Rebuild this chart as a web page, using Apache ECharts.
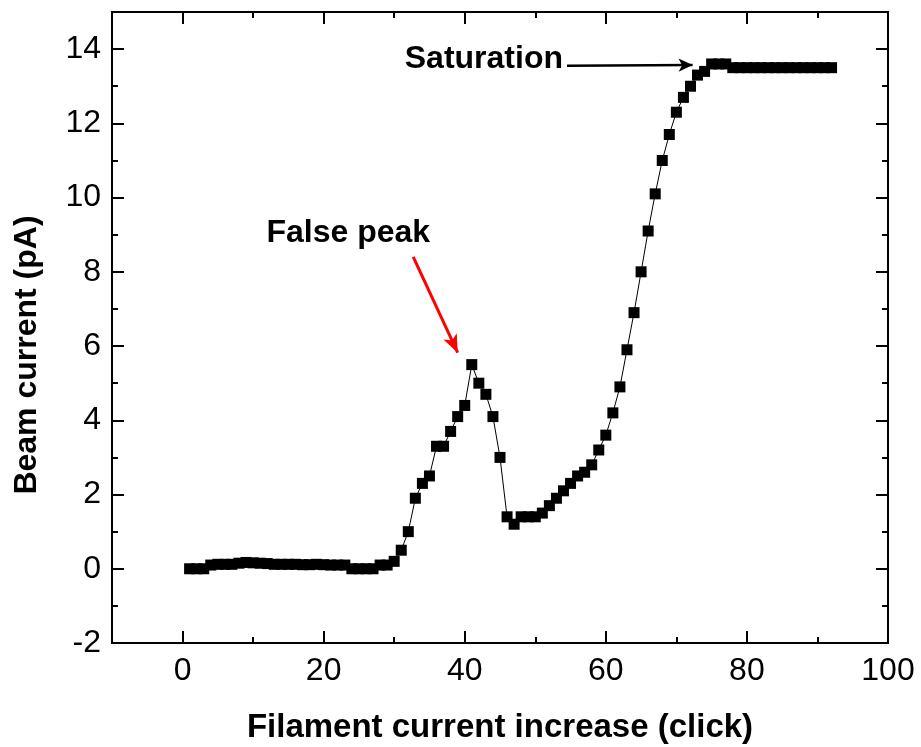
<!DOCTYPE html>
<html>
<head>
<meta charset="utf-8">
<script src="https://cdn.jsdelivr.net/npm/echarts@6/dist/echarts.min.js"></script>
<style>
  html, body { margin: 0; padding: 0; background: #fff; }
  #chart { width: 921px; height: 747px; }
</style>
</head>
<body>
<div id="chart"></div>
<script>
// Filament click number (x) and measured beam current in pA (y)
const clicks = [
  1, 2, 3, 4, 5, 6, 7, 8, 9, 10,
  11, 12, 13, 14, 15, 16, 17, 18, 19, 20,
  21, 22, 23, 24, 25, 26, 27, 28, 29, 30,
  31, 32, 33, 34, 35, 36, 37, 38, 39, 40,
  41, 42, 43, 44, 45, 46, 47, 48, 49, 50,
  51, 52, 53, 54, 55, 56, 57, 58, 59, 60,
  61, 62, 63, 64, 65, 66, 67, 68, 69, 70,
  71, 72, 73, 74, 75, 76, 77, 78, 79, 80,
  81, 82, 83, 84, 85, 86, 87, 88, 89, 90,
  91, 92
];
const beamCurrent = [
  0.0, 0.0, 0.0, 0.1, 0.12, 0.12, 0.12, 0.15, 0.17, 0.16,
  0.15, 0.14, 0.12, 0.12, 0.12, 0.12, 0.11, 0.11, 0.12, 0.11,
  0.1, 0.1, 0.1, 0.0, 0.0, 0.0, 0.0, 0.1, 0.1, 0.2,
  0.5, 1.0, 1.9, 2.3, 2.5, 3.3, 3.3, 3.7, 4.1, 4.4,
  5.5, 5.0, 4.7, 4.1, 3.0, 1.4, 1.2, 1.4, 1.4, 1.4,
  1.5, 1.7, 1.9, 2.1, 2.3, 2.5, 2.6, 2.8, 3.2, 3.6,
  4.2, 4.9, 5.9, 6.9, 8.0, 9.1, 10.1, 11.0, 11.7, 12.3,
  12.7, 13.0, 13.3, 13.4, 13.6, 13.6, 13.6, 13.5, 13.5, 13.5,
  13.5, 13.5, 13.5, 13.5, 13.5, 13.5, 13.5, 13.5, 13.5, 13.5,
  13.5, 13.5
];

// Axis ranges and tick values
const xRange = [-10, 100];
const yRange = [-2, 15];
const xMajorTicks = [0, 20, 40, 60, 80, 100];
const xMinorTicks = [-10, 10, 30, 50, 70, 90];
const yMajorTicks = [-2, 0, 2, 4, 6, 8, 10, 12, 14];
const yMinorTicks = [-1, 1, 3, 5, 7, 9, 11, 13];

// Annotations (data coordinates)
const falsePeakLabel = { text: 'False peak', at: [11.9, 9.05] };
const falsePeakArrow = [[32.7, 8.4], [39.0, 5.82]];
const saturationLabel = { text: 'Saturation', at: [31.5, 13.74] };
const saturationArrow = [[54.5, 13.55], [72.3, 13.57]];

const FONT = '"Liberation Sans", Arial, Helvetica, sans-serif';

const chart = echarts.init(document.getElementById('chart'), null, { renderer: 'canvas' });

function makeAxis(range, ticks, opts) {
  return Object.assign({
    type: 'value',
    min: range[0],
    max: range[1],
    splitLine: { show: false },
    axisLine: { show: false, onZero: false },
    axisTick: {
      show: true, inside: true, length: opts.tickLen, customValues: ticks,
      lineStyle: { color: '#000', width: 2 }
    },
    axisLabel: { show: false },
    position: opts.position
  }, opts.extra || {});
}

const data = clicks.map((c, i) => [c, beamCurrent[i]]);

const option = {
  animation: false,
  backgroundColor: '#fff',
  grid: { left: 112, top: 12, right: 33, bottom: 104, containLabel: false,
          outerBoundsMode: 'none',
          show: true, borderColor: '#000', borderWidth: 2, backgroundColor: 'transparent' },
  xAxis: [
    makeAxis(xRange, xMajorTicks, { position: 'bottom', tickLen: 12, extra: {
      axisLabel: {
        show: true, customValues: xMajorTicks, margin: 12,
        color: '#000', fontSize: 32, fontFamily: FONT
      },
      name: 'Filament current increase (click)',
      nameLocation: 'middle',
      nameGap: 68,
      nameTextStyle: { color: '#000', fontSize: 33, fontWeight: 'bold', fontFamily: FONT }
    }}),
    makeAxis(xRange, xMinorTicks, { position: 'bottom', tickLen: 6 }),
    makeAxis(xRange, xMajorTicks, { position: 'top', tickLen: 12 }),
    makeAxis(xRange, xMinorTicks, { position: 'top', tickLen: 6 })
  ],
  yAxis: [
    makeAxis(yRange, yMajorTicks, { position: 'left', tickLen: 12, extra: {
      axisLabel: {
        show: true, customValues: yMajorTicks, margin: 11,
        color: '#000', fontSize: 32, fontFamily: FONT
      }
    }}),
    makeAxis(yRange, yMinorTicks, { position: 'left', tickLen: 6 }),
    makeAxis(yRange, yMajorTicks, { position: 'right', tickLen: 12 }),
    makeAxis(yRange, yMinorTicks, { position: 'right', tickLen: 6 })
  ],
  series: [{
    type: 'line',
    xAxisIndex: 0,
    yAxisIndex: 0,
    data: data,
    symbol: 'rect',
    symbolSize: 11,
    showSymbol: true,
    itemStyle: { color: '#000' },
    lineStyle: { color: '#000', width: 1 },
    markLine: {
      silent: true,
      animation: false,
      label: { show: false },
      data: [
        [
          { coord: falsePeakArrow[0], symbol: 'none',
            lineStyle: { color: '#ff0000', width: 3, type: 'solid' } },
          { coord: falsePeakArrow[1], symbol: 'arrow', symbolSize: [11, 18] }
        ],
        [
          { coord: saturationArrow[0], symbol: 'none',
            lineStyle: { color: '#000', width: 2.5, type: 'solid' } },
          { coord: saturationArrow[1], symbol: 'arrow', symbolSize: [10, 14] }
        ]
      ]
    }
  }]
};

chart.setOption(option);

// Place annotation texts at their data positions
function annotation(label) {
  const p = chart.convertToPixel({ gridIndex: 0 }, label.at);
  return {
    type: 'text',
    x: p[0], y: p[1],
    style: {
      text: label.text, fill: '#000',
      font: 'bold 32px ' + FONT,
      textAlign: 'left', textVerticalAlign: 'middle'
    }
  };
}

chart.setOption({
  graphic: [
    annotation(falsePeakLabel),
    annotation(saturationLabel),
    {
      type: 'text',
      x: 27, y: 355,
      rotation: Math.PI / 2,
      style: {
        text: 'Beam current (pA)', fill: '#000',
        font: 'bold 32px ' + FONT,
        textAlign: 'center', textVerticalAlign: 'middle'
      }
    }
  ]
});
</script>
</body>
</html>
